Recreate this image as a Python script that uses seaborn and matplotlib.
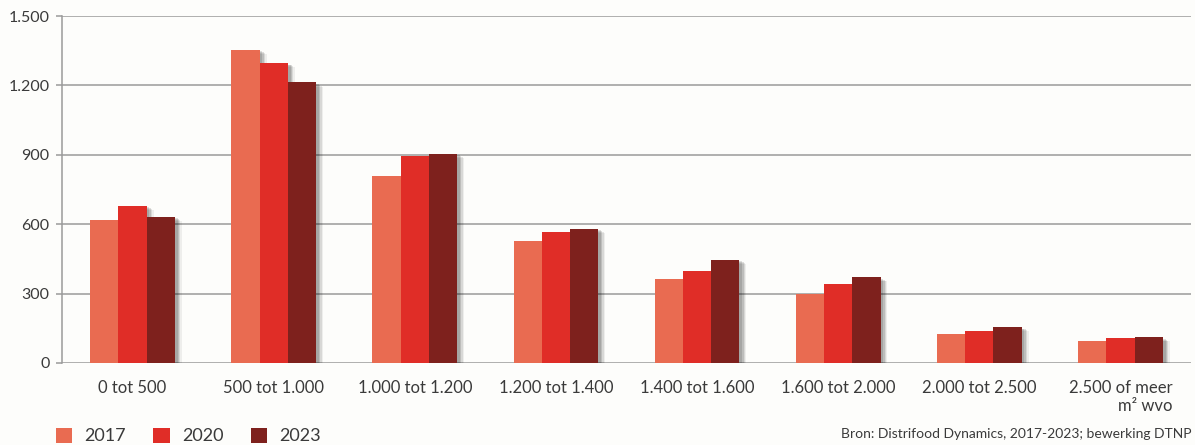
import matplotlib
matplotlib.use("Agg")
import matplotlib.pyplot as plt
import matplotlib.patheffects as pe
from matplotlib.patches import Patch
import seaborn as sns
import pandas as pd

# Aantal supermarkten per oppervlakteklasse (m² wvo)
klassen = ["0 tot 500", "500 tot 1.000", "1.000 tot 1.200", "1.200 tot 1.400",
           "1.400 tot 1.600", "1.600 tot 2.000", "2.000 tot 2.500", "2.500 of meer\nm² wvo"]
jaren = ["2017", "2020", "2023"]
waarden_2017 = [620, 1355, 810, 526, 362, 300, 126, 97]
waarden_2020 = [680, 1297, 893, 567, 398, 342, 140, 107]
waarden_2023 = [633, 1213, 905, 581, 446, 371, 156, 111]
kleuren = ["#e96b51", "#e02d27", "#7e211d"]
yticks = [0, 300, 600, 900, 1200, 1500]
ytick_labels = ["0", "300", "600", "900", "1.200", "1.500"]

df = pd.DataFrame({
    "klasse": klassen * 3,
    "jaar": [j for j in jaren for _ in klassen],
    "aantal": waarden_2017 + waarden_2020 + waarden_2023,
})

sns.set_theme(style="white")
plt.rcParams["font.family"] = ["Lato", "DejaVu Sans"]
tekst = "#3a3a3a"
bg = "#fdfdfb"

fig = plt.figure(figsize=(11.95, 4.45), dpi=100, facecolor=bg)
ax = fig.add_axes([62 / 1195, 1 - 363 / 445, (1191 - 62) / 1195, (363 - 16) / 445])
ax.set_facecolor(bg)

sns.barplot(data=df, x="klasse", y="aantal", hue="jaar", order=klassen,
            hue_order=jaren, palette=kleuren, width=0.6, saturation=1,
            linewidth=0, ax=ax, legend=False, zorder=3)

# zachte slagschaduw rechtsonder de staven
schaduw = [pe.SimplePatchShadow(offset=(o, -o * 0.6), shadow_rgbFace="black", alpha=a)
           for o, a in [(5, 0.06), (4, 0.09), (3, 0.12), (2, 0.12)]]
for bar in ax.patches:
    bar.set_path_effects(schaduw + [pe.Normal()])

ax.set_ylim(0, 1500)
ax.set_xlim(-0.5, len(klassen) - 0.5)
ax.set_yticks(yticks)
ax.set_yticklabels(ytick_labels)
ax.yaxis.grid(True, color="#9a9a9a", linewidth=1.1, zorder=0)
ax.set_axisbelow(True)
for s in ["top", "right", "bottom"]:
    ax.spines[s].set_visible(False)
ax.spines["left"].set_color("#9a9a9a")
ax.spines["left"].set_linewidth(1.1)
ax.tick_params(axis="y", left=True, length=4, width=1.1, color="#9a9a9a",
               labelsize=11.5, labelcolor=tekst, pad=5)
ax.tick_params(axis="x", bottom=False, labelsize=12, labelcolor=tekst, pad=6)
ax.set_xlabel("")
ax.set_ylabel("")
for lbl in ax.get_xticklabels():
    lbl.set_multialignment("right")

handles = [Patch(facecolor=c, edgecolor="none") for c in kleuren]
fig.legend(handles, jaren, loc="lower left", bbox_to_anchor=(0.033, -0.035), ncol=3,
           frameon=False, fontsize=13, labelcolor=tekst, handlelength=0.9,
           handleheight=0.9, handletextpad=0.7, columnspacing=1.5)

fig.text(0.997, 0.012, "Bron: Distrifood Dynamics, 2017-2023; bewerking DTNP",
         ha="right", va="bottom", fontsize=10, color=tekst)

fig.savefig("out.png", dpi=100, facecolor=bg)
